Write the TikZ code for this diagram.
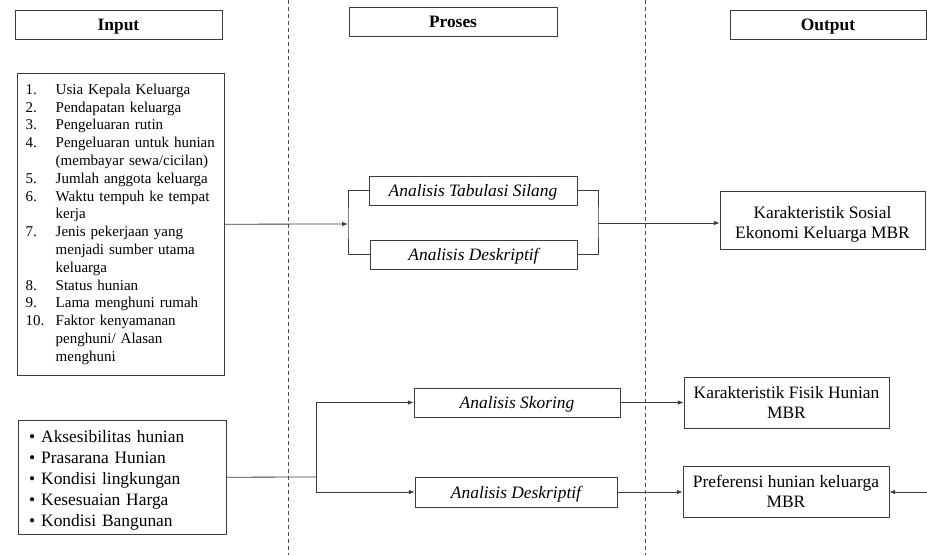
\documentclass[tikz,border=0pt]{standalone}
\usepackage{fontspec}
\setmainfont{Liberation Serif}
\usepackage{tikz}
\usetikzlibrary{arrows.meta}
\definecolor{linegray}{RGB}{60,60,60}
\newcommand{\boxfont}{\fontsize{17.4}{20}\selectfont}
\newcommand{\listfont}{\fontsize{15}{17.8}\selectfont}
\newcommand{\bulletfont}{\fontsize{17.4}{21}\selectfont}
\newcommand{\num}[1]{\makebox[30pt][l]{#1}}
\newcommand{\cont}{\hspace*{30pt}}
\newcommand{\itm}{\makebox[12pt][l]{\textbullet}}
\tikzset{
    common/.style={draw=linegray, rectangle, inner sep=2pt, align=center, font=\boxfont},
    header/.style={common, minimum height=29pt, text height=11.5pt, text depth=0pt, font=\boxfont\bfseries},
    method/.style={common, minimum height=29pt, text height=12.5pt, text depth=0pt, font=\boxfont\itshape},
    result/.style={common, minimum height=51pt},
    inlist/.style={common, anchor=north west, inner xsep=8.5pt, inner ysep=0pt, align=left},
    link/.style={draw=linegray, line width=0.8pt},
    flow/.style={link, -{Latex[length=6pt, width=4.5pt]}},
    divider/.style={draw=black!70, line width=0.7pt, dash pattern=on 4pt off 3pt}
}

\begin{document}
\begin{tikzpicture}[x=1pt, y=-1pt]
    \useasboundingbox (0,0) rectangle (927,555);
    \draw[divider] (288,0) -- (288,555);
    \draw[divider] (645,0) -- (645,555);

    \node[header, minimum width=207pt] (hIn) at (118.5,24.5) {Input};
    \node[header, minimum width=208pt] (hPro) at (453,21.5) {Proses};
    \node[header, minimum width=196pt] (hOut) at (828,24.5) {Output};

    \node[inlist, text width=190pt, minimum height=302pt, font=\listfont] (social) at (17,73) {%
        \num{1.}Usia Kepala Keluarga\\
        \num{2.}Pendapatan keluarga\\
        \num{3.}Pengeluaran rutin\\
        \num{4.}Pengeluaran untuk hunian\\
        \cont(membayar sewa/cicilan)\\
        \num{5.}Jumlah anggota keluarga\\
        \num{6.}Waktu tempuh ke tempat\\
        \cont kerja\\
        \num{7.}Jenis pekerjaan yang\\
        \cont menjadi sumber utama\\
        \cont keluarga\\
        \num{8.}Status hunian\\
        \num{9.}Lama menghuni rumah\\
        \num{10.}Faktor kenyamanan\\
        \cont penghuni/ Alasan\\
        \cont menghuni};

    \node[method, minimum width=208pt] (tabulasi) at (473,190.5) {Analisis Tabulasi Silang};
    \node[method, minimum width=207pt] (deskA) at (473.5,254.5) {Analisis Deskriptif};
    \node[common, minimum width=205pt, minimum height=58pt] (sosek) at (822.5,220) {\rule{0pt}{20pt}Karakteristik Sosial\\Ekonomi Keluarga MBR};

    \node[inlist, text width=186pt, inner xsep=11pt, minimum height=114pt, font=\bulletfont] (housing) at (18,420) {%
        \itm\rule{0pt}{18.5pt}Aksesibilitas hunian\\
        \itm Prasarana Hunian\\
        \itm Kondisi lingkungan\\
        \itm Kesesuaian Harga\\
        \itm Kondisi Bangunan};

    \node[method, minimum width=206pt] (skoring) at (517,402.5) {Analisis Skoring};
    \node[method, minimum width=202pt, minimum height=30pt] (deskB) at (516,492) {Analisis Deskriptif};
    \node[result, minimum width=205pt] (karfisik) at (786.5,402.5) {Karakteristik Fisik Hunian\\MBR};
    \node[result, minimum width=206pt] (prefer) at (786,491.5) {Preferensi hunian keluarga\\MBR};

    \coordinate (splitA) at (348,224);
    \coordinate (joinA) at (598,223);
    \coordinate (splitB) at (316,477);
    \coordinate (edge) at (927,492);

    \draw[flow] (social.east) -- (splitA);
    \draw[link] (tabulasi.west) -| (splitA) |- (deskA.west);
    \draw[link] (tabulasi.east) -| (joinA) |- (deskA.east);
    \draw[flow] (joinA) -- (joinA -| sosek.west);

    \draw[link] (housing.east) -- (splitB);
    \draw[flow] (splitB) |- (skoring.west);
    \draw[flow] (splitB) |- (deskB.west);
    \draw[flow] (skoring.east) -- (karfisik.west);
    \draw[flow] (deskB.east) -- (prefer.west |- deskB.east);
    \draw[flow] (edge) -- (prefer.east |- edge);
\end{tikzpicture}
\end{document}
